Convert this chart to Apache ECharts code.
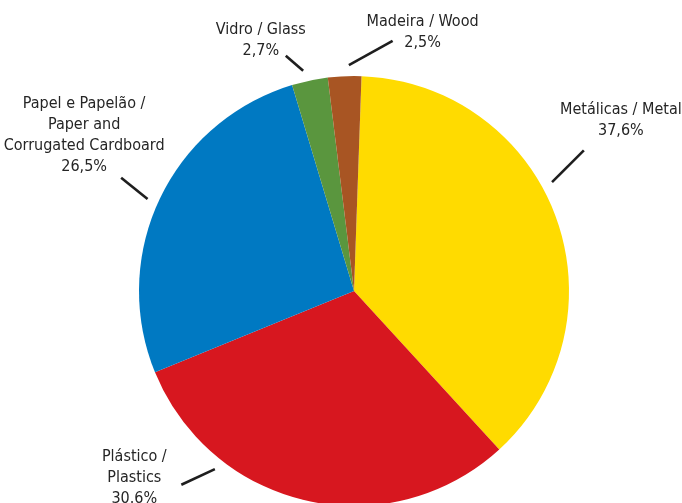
<!DOCTYPE html>
<html>
<head>
<meta charset="utf-8">
<script src="https://cdn.jsdelivr.net/npm/echarts@6/dist/echarts.min.js"></script>
<style>
  html, body { margin: 0; padding: 0; background: #fff; }
  #chart { width: 682px; height: 503px; }
</style>
</head>
<body>
<div id="chart"></div>
<script>
// Packaging waste by material (share of total, %)
const categories = [
  'Metálicas / Metal',
  'Plástico /\nPlastics',
  'Papel e Papelão /\nPaper and\nCorrugated Cardboard',
  'Vidro / Glass',
  'Madeira / Wood'
];
const shares = [37.6, 30.6, 26.5, 2.7, 2.5];
const decimalMarks = [',', '.', ',', ',', ','];
const sliceColors = ['#FFDB00', '#D7171F', '#0079C2', '#5A963E', '#A85523'];

const CX = 354, CY = 291, R = 215;

// Leader geometry per slice: anchor angle on the rim (deg, counter-clockwise from east),
// leader direction (deg), leader length (px), and text offset from the leader end.
const guides = [
  { at: 28.8, dir: 45, len: 45, dx: 37, dy: -9, align: 'center', vAlign: 'bottom' },
  { at: -128, dir: 205, len: 37, dx: -47, dy: -7, align: 'center', vAlign: 'middle' },
  { at: 156, dir: 141, len: 34, dx: -37, dy: 0, align: 'center', vAlign: 'bottom' },
  { at: 103, dir: 139, len: 23, dx: -25, dy: 6, align: 'center', vAlign: 'bottom' },
  { at: 91.3, dir: 29, len: 50, dx: 30, dy: 13, align: 'center', vAlign: 'bottom' }
];
const RIM = 226;

const chart = echarts.init(document.getElementById('chart'), null, { renderer: 'canvas' });

chart.setOption({
  animation: false,
  backgroundColor: '#ffffff',
  series: [{
    type: 'pie',
    center: [CX, CY],
    radius: [0, R],
    startAngle: 88,
    clockwise: true,
    silent: true,
    itemStyle: { borderWidth: 0 },
    data: categories.map((name, i) => ({
      name: name,
      value: shares[i],
      itemStyle: { color: sliceColors[i] }
    })),
    label: {
      show: true,
      position: 'outside',
      overflow: 'none',
      color: '#252525',
      fontFamily: '"Liberation Sans Narrow", "DejaVu Sans Condensed", "Roboto Condensed", sans-serif',
      fontSize: 16,
      lineHeight: 21,
      align: 'center',
      formatter: p => p.name + '\n' + String(shares[p.dataIndex]).replace('.', decimalMarks[p.dataIndex]) + '%'
    },
    labelLine: {
      show: true,
      lineStyle: { color: '#1e1e1e', width: 2.6 }
    },
    labelLayout: function (params) {
      const g = guides[params.dataIndex];
      const a = g.at * Math.PI / 180;
      const d = g.dir * Math.PI / 180;
      const sx = CX + RIM * Math.cos(a);
      const sy = CY - RIM * Math.sin(a);
      const ex = sx + g.len * Math.cos(d);
      const ey = sy - g.len * Math.sin(d);
      return {
        x: ex + g.dx,
        y: ey + g.dy,
        width: 240,
        align: g.align,
        verticalAlign: g.vAlign,
        labelLinePoints: [[sx, sy], [ex, ey], [ex, ey]]
      };
    }
  }]
});
</script>
</body>
</html>
